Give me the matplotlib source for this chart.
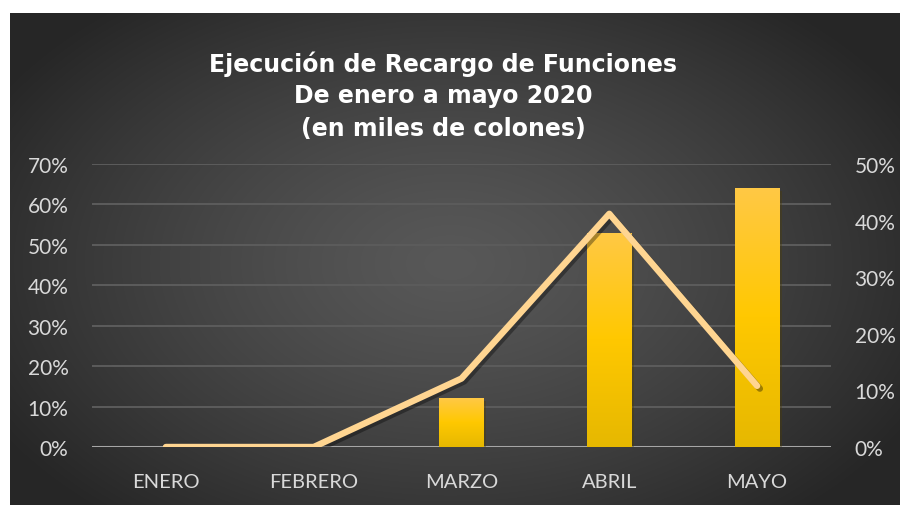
import numpy as np
import matplotlib
matplotlib.use("Agg")
import matplotlib.pyplot as plt
import matplotlib.patheffects as pe
from matplotlib.ticker import PercentFormatter

# data
meses = ["ENERO", "FEBRERO", "MARZO", "ABRIL", "MAYO"]
ejecucion = [0.0, 0.0, 12.0, 53.0, 64.0]     # bars, left axis (%)
variacion = [0.0, 0.0, 12.1, 41.2, 10.8]     # line, right axis (%)
titulo = ["Ejecución de Recargo de Funciones",
          "De enero a mayo 2020",
          "(en miles de colones)"]

plt.rcParams['font.family'] = ['Lato', 'DejaVu Sans']

W, H = 900, 506
fig = plt.figure(figsize=(W / 100, H / 100), dpi=100)
fig.patch.set_facecolor("white")

# dark radial gradient panel
bg = fig.add_axes([10 / W, 0, 890 / W, 492 / H])
bg.set_axis_off()
yy, xx = np.mgrid[0:492, 0:890]
r = np.sqrt(((xx - 440) / 520.0) ** 2 + ((yy - 250) / 330.0) ** 2)
r = np.clip(r, 0, 1)
inner = np.array([0x58, 0x58, 0x58]) / 255
outer = np.array([0x27, 0x27, 0x27]) / 255
img = inner[None, None, :] * (1 - r[..., None] ** 1.3) + outer[None, None, :] * (r[..., None] ** 1.3)
bg.imshow(img, aspect="auto", extent=[0, 1, 0, 1], origin="upper")
bg.set_xlim(0, 1)
bg.set_ylim(0, 1)

ax = fig.add_axes([92 / W, (H - 448) / H, (831 - 92) / W, (448 - 165) / H])
ax.patch.set_alpha(0)
x = np.arange(len(meses))

ax.set_ylim(0, 70)
ax.set_yticks(range(0, 71, 10))
ax.set_xlim(-0.5, len(meses) - 0.5)
ax.yaxis.set_major_formatter(PercentFormatter(decimals=0))
ax.grid(axis="y", color="#5c5c5c", linewidth=1.4)
ax.set_axisbelow(True)
for s in ax.spines.values():
    s.set_visible(False)
ax.axhline(0, color="#a6a6a6", linewidth=2.2, zorder=2)

# bars with vertical golden gradient
grad = np.linspace(0, 1, 256)[:, None]
top_c = np.array([0xFF, 0xC9, 0x45]) / 255
mid_c = np.array([0xFF, 0xC8, 0x00]) / 255
bot_c = np.array([0xE6, 0xB8, 0x00]) / 255
g = np.where(grad < 0.5, 0, 1)
t = np.where(grad < 0.5, grad / 0.5, (grad - 0.5) / 0.5)
cols = np.where(g[..., None] == 0,
                top_c * (1 - t[..., None]) + mid_c * t[..., None],
                mid_c * (1 - t[..., None]) + bot_c * t[..., None])
cols = np.repeat(cols, 2, axis=1)

bars = ax.bar(x, ejecucion, width=0.3, color="#FFC800", zorder=3,
              path_effects=[pe.SimplePatchShadow(offset=(2, -2), alpha=0.35), pe.Normal()])
for b in bars:
    h = b.get_height()
    if h <= 0:
        continue
    x0 = b.get_x()
    im = ax.imshow(cols, aspect="auto", origin="upper",
                   extent=[x0, x0 + b.get_width(), 0, h], zorder=3.5)
    im.set_clip_path(b)
ax.set_xlim(-0.5, len(meses) - 0.5)
ax.set_ylim(0, 70)

ax.tick_params(axis="y", length=0, pad=17, labelsize=15, labelcolor="#d9d9d9")
ax.tick_params(axis="x", length=0, pad=19, labelsize=14.5, labelcolor="#d9d9d9")
ax.set_xticks(x)
ax.set_xticklabels(meses)

ax2 = ax.twinx()
ax2.set_ylim(0, 50)
ax2.set_yticks(range(0, 51, 10))
ax2.yaxis.set_major_formatter(PercentFormatter(decimals=0))
for s in ax2.spines.values():
    s.set_visible(False)
ax2.tick_params(axis="y", length=0, pad=17, labelsize=15, labelcolor="#d9d9d9")
ax2.plot(x, variacion, color="#FFD591", linewidth=4.6, solid_capstyle="round",
         solid_joinstyle="round", zorder=5,
         path_effects=[pe.SimpleLineShadow(offset=(2, -2), alpha=0.35), pe.Normal()])

for i, line in enumerate(titulo):
    fig.text(443 / W, 1 - (64 + i * 32.5) / H, line, ha="center", va="center",
             fontsize=17, fontweight="bold", color="white", family="DejaVu Sans")

fig.savefig("out.png", dpi=100)
